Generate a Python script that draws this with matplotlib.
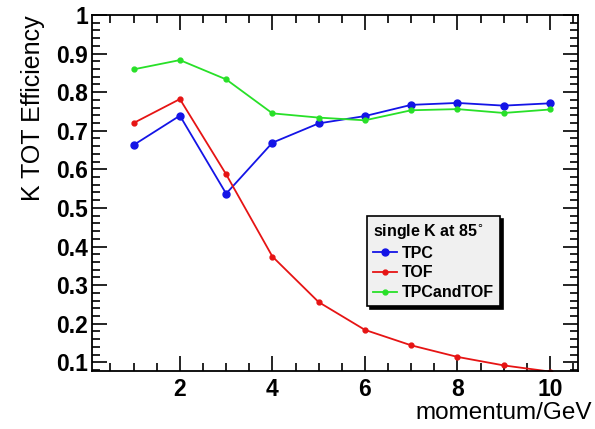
import matplotlib.pyplot as plt
from matplotlib.ticker import MultipleLocator

plt.rcParams['font.family'] = ['Liberation Sans', 'DejaVu Sans']

# momentum points and efficiencies
momentum = [1, 2, 3, 4, 5, 6, 7, 8, 9, 10]
eff_tpc = [0.663, 0.739, 0.537, 0.669, 0.719, 0.738, 0.767, 0.772, 0.765, 0.771]
eff_tof = [0.720, 0.782, 0.587, 0.374, 0.256, 0.184, 0.144, 0.114, 0.092, 0.076]
eff_both = [0.859, 0.883, 0.833, 0.745, 0.734, 0.727, 0.753, 0.756, 0.746, 0.755]

fig = plt.figure(figsize=(5.95, 4.29), dpi=100)
ax = fig.add_axes([0.1546, 0.1352, 0.8164, 0.83])

ax.plot(momentum, eff_tpc, '-o', color='#1414e6', lw=1.3, ms=5, label='TPC')
ax.plot(momentum, eff_tof, '-o', color='#e61414', lw=1.3, ms=3.5, label='TOF')
ax.plot(momentum, eff_both, '-o', color='#28e028', lw=1.3, ms=3.5, label='TPCandTOF')

ax.set_xlim(0.1, 10.6)
ax.set_ylim(0.0775, 1.0)
ax.xaxis.set_major_locator(MultipleLocator(2))
ax.xaxis.set_minor_locator(MultipleLocator(0.5))
ax.yaxis.set_minor_locator(MultipleLocator(0.02))
ax.set_yticks([0.1, 0.2, 0.3, 0.4, 0.5, 0.6, 0.7, 0.8, 0.9, 1.0])
ax.set_yticklabels(['0.1', '0.2', '0.3', '0.4', '0.5', '0.6', '0.7', '0.8', '0.9', '1'])
ax.tick_params(which='both', direction='in', top=True, right=True, width=1.2)
ax.tick_params(which='major', length=11, labelsize=16.5)
ax.tick_params(axis='y', which='major', pad=3)
ax.tick_params(axis='x', which='major', pad=5)
ax.tick_params(which='minor', length=5.5)
for lab in ax.get_xticklabels() + ax.get_yticklabels():
    lab.set_fontweight('bold')
for s in ax.spines.values():
    s.set_linewidth(1.3)

ax.set_xlabel('momentum/GeV', fontsize=17.5, loc='right')
ax.xaxis.set_label_coords(1.03, -0.088)
ax.set_ylabel('K TOT Efficiency', fontsize=18, loc='top', labelpad=8)

leg = ax.legend(loc='lower left', bbox_to_anchor=(0.617, 0.287),
                bbox_transform=fig.transFigure, borderaxespad=0, fontsize=11.5,
                title='single K at 85$^{\\circ}$', alignment='left',
                fancybox=False, frameon=True, borderpad=0.35, labelspacing=0.3,
                handlelength=1.5, handletextpad=0.35,
                shadow={'color': 'black', 'alpha': 1})
leg.get_frame().set_facecolor('#f0f0f0')
leg.get_frame().set_edgecolor('black')
leg.get_frame().set_linewidth(1.2)
leg.get_frame().set_alpha(1)
leg.get_title().set_fontweight('bold')
leg.get_title().set_fontsize(11.5)
for t in leg.get_texts():
    t.set_fontweight('bold')

fig.savefig('out.png', dpi=100)
